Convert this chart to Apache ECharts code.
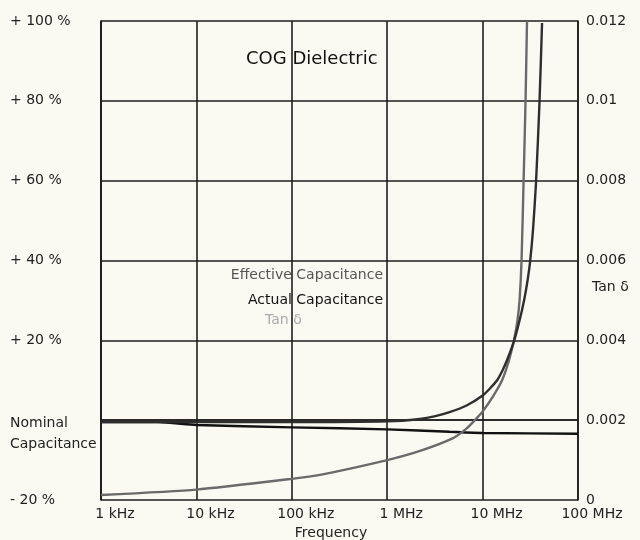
<!DOCTYPE html>
<html>
<head>
<meta charset="utf-8">
<script src="https://cdn.jsdelivr.net/npm/echarts@6/dist/echarts.min.js"></script>
<style>
  html, body { margin: 0; padding: 0; background: #fafaf3; }
  #chart { width: 640px; height: 540px; }
</style>
</head>
<body>
<div id="chart"></div>
<script>
// Frequency axis (Hz, log scale) and its labels
const frequencyTicks = [1e3, 1e4, 1e5, 1e6, 1e7, 1e8];
const frequencyLabels = ['1 kHz', '10 kHz', '100 kHz', '1 MHz', '10 MHz', '100 MHz'];

// Capacitance change axis (%), ticks from -20 % to +100 %
const capacitanceTicks = [-20, 0, 20, 40, 60, 80, 100];
const capacitanceLabels = ['- 20 %', 'Nominal\nCapacitance', '+ 20 %', '+ 40 %', '+ 60 %', '+ 80 %', '+ 100 %'];

// Dissipation factor axis
const tanDeltaTicks = [0, 0.002, 0.004, 0.006, 0.008, 0.01, 0.012];

// Effective capacitance, % change vs frequency (Hz)
const effectiveFreq = [1e3, 1e4, 1e5, 1e6, 2.2e6, 3.2e6, 4.5e6, 6.87e6, 1.01e7, 1.2e7, 1.42e7, 1.62e7, 1.8e7, 2.13e7, 2.44e7, 2.72e7, 2.96e7, 3.14e7, 3.37e7, 3.63e7, 3.95e7, 4.2e7];
const effectiveCap  = [-0.5, -0.5, -0.5, -0.3, 0.3, 1.0, 2.0, 3.75, 6.25, 8.0, 10, 12.5, 15, 19.75, 25, 30, 35, 39.5, 47.5, 59.5, 79.75, 99.5];

// Actual capacitance, % change vs frequency (Hz)
const actualFreq = [1e3, 4e3, 1e4, 1e5, 1e6, 4.5e6, 1e7, 1e8];
const actualCap  = [-0.5, -0.5, -1.2, -1.8, -2.3, -2.9, -3.2, -3.4];

// Tan δ vs frequency (Hz)
const tanFreq  = [1e3, 1e4, 1e5, 1.98e5, 1e6, 2.21e6, 4.9e6, 6.87e6, 8.3e6, 1.01e7, 1.31e7, 1.6e7, 1.89e7, 2.13e7, 2.32e7, 2.44e7, 2.56e7, 2.69e7, 2.82e7, 2.92e7];
const tanDelta = [0.000125, 0.00026, 0.00053, 0.00063, 0.001, 0.00123, 0.00155, 0.0018, 0.002, 0.00223, 0.00263, 0.003, 0.0035, 0.004, 0.0045, 0.005, 0.006, 0.008, 0.01, 0.012];

const pairs = (xs, ys) => xs.map((x, i) => [x, ys[i]]);

const FONT = '"DejaVu Sans", sans-serif';
const INK = '#1e1e1e';
const gridLine = { show: true, lineStyle: { color: INK, width: 1.6 } };

const chart = echarts.init(document.getElementById('chart'), null, { renderer: 'canvas' });

chart.setOption({
  backgroundColor: '#fafaf3',
  animation: false,
  grid: { left: 101, right: 62, top: 21, bottom: 40, containLabel: false, outerBoundsMode: 'none' },
  xAxis: {
    type: 'log',
    logBase: 10,
    min: frequencyTicks[0],
    max: frequencyTicks[frequencyTicks.length - 1],
    name: 'Frequency',
    nameLocation: 'middle',
    nameGap: 26,
    nameTextStyle: { fontFamily: FONT, fontSize: 14, color: '#222', padding: [0, 17, 0, 0] },
    axisLine: { show: true, lineStyle: { color: INK, width: 1.6 } },
    axisTick: { show: false },
    splitLine: gridLine,
    axisLabel: {
      fontFamily: FONT, fontSize: 14, color: '#222', margin: 7,
      padding: [0, 0, 0, 28],
      formatter: v => {
        const i = frequencyTicks.findIndex(t => Math.abs(t - v) / t < 1e-6);
        return i >= 0 ? frequencyLabels[i] : '';
      }
    }
  },
  yAxis: [
    {
      type: 'value',
      min: capacitanceTicks[0],
      max: capacitanceTicks[capacitanceTicks.length - 1],
      interval: 20,
      axisLine: { show: true, lineStyle: { color: INK, width: 1.6 } },
      axisTick: { show: false },
      splitLine: gridLine,
      axisLabel: {
        fontFamily: FONT, fontSize: 14, color: '#222',
        align: 'left', margin: 91,
        formatter: v => {
          const i = capacitanceTicks.indexOf(v);
          if (i < 0) return '';
          const s = capacitanceLabels[i];
          if (s.indexOf('\n') >= 0) {
            const [a, b] = s.split('\n');
            return '{gap| }\n{t|' + a + '}\n{t|' + b + '}';
          }
          return s;
        },
        rich: {
          gap: { lineHeight: 27, fontSize: 1 },
          t: { fontFamily: FONT, fontSize: 14, color: '#222', lineHeight: 21 }
        }
      }
    },
    {
      type: 'value',
      position: 'right',
      min: tanDeltaTicks[0],
      max: tanDeltaTicks[tanDeltaTicks.length - 1],
      interval: 0.002,
      axisLine: { show: true, lineStyle: { color: INK, width: 1.6 } },
      axisTick: { show: false },
      splitLine: { show: false },
      axisLabel: {
        fontFamily: FONT, fontSize: 14, color: '#222', margin: 8,
        formatter: v => {
          const i = tanDeltaTicks.findIndex(t => Math.abs(t - v) < 1e-9);
          return i >= 0 ? String(tanDeltaTicks[i]) : '';
        }
      }
    }
  ],
  graphic: [
    { type: 'text', left: 246, top: 50, style: { text: 'COG Dielectric', fontFamily: FONT, fontSize: 18, fill: '#111' } },
    { type: 'text', right: 257, top: 268, style: { text: 'Effective Capacitance', fontFamily: FONT, fontSize: 14, fill: '#555' } },
    { type: 'text', right: 257, top: 293, style: { text: 'Actual Capacitance', fontFamily: FONT, fontSize: 14, fill: '#111' } },
    { type: 'text', left: 265, top: 313, style: { text: 'Tan δ', fontFamily: FONT, fontSize: 14, fill: '#aaa' } },
    // right-hand axis title
    { type: 'text', left: 592, top: 280, style: { text: 'Tan δ', fontFamily: FONT, fontSize: 14, fill: '#222' } }
  ],
  series: [
    {
      name: 'Actual Capacitance',
      type: 'line',
      yAxisIndex: 0,
      data: pairs(actualFreq, actualCap),
      smooth: 0.2,
      showSymbol: false,
      lineStyle: { color: '#111', width: 2.4 }
    },
    {
      name: 'Tan δ',
      type: 'line',
      yAxisIndex: 1,
      data: pairs(tanFreq, tanDelta),
      smooth: 0.2,
      showSymbol: false,
      lineStyle: { color: '#6a6a6a', width: 2.4 }
    },
    {
      name: 'Effective Capacitance',
      type: 'line',
      yAxisIndex: 0,
      data: pairs(effectiveFreq, effectiveCap),
      smooth: 0.2,
      showSymbol: false,
      lineStyle: { color: '#2e2e2e', width: 2.4 }
    }
  ]
});
</script>
</body>
</html>
